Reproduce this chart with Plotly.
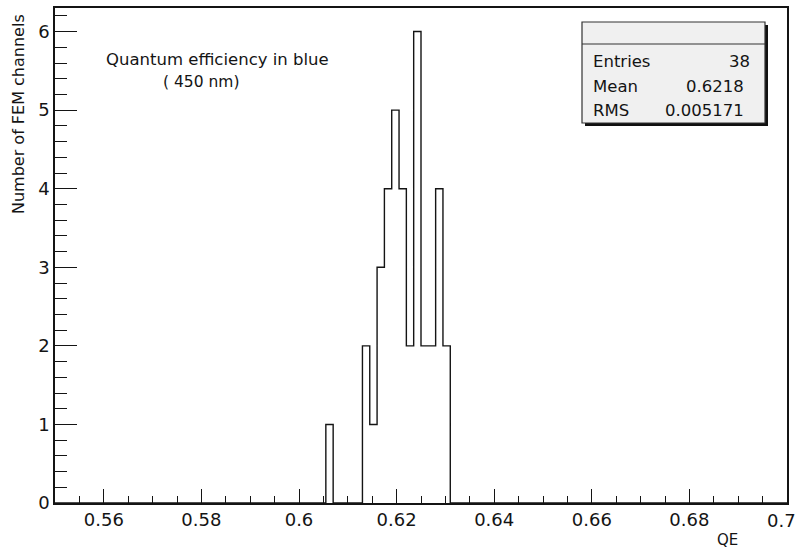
import plotly.graph_objects as go

# ---- data ----
bin_width = 0.0015
hist_min = 0.55
hist_max = 0.70
bin_left = [0.6055, 0.6130, 0.6145, 0.6160, 0.6175, 0.6190, 0.6205,
            0.6220, 0.6235, 0.6250, 0.6265, 0.6280, 0.6295]
counts = [1, 2, 1, 3, 4, 5, 4, 2, 6, 2, 2, 4, 2]

x_tickvals = [0.56, 0.58, 0.60, 0.62, 0.64, 0.66, 0.68, 0.70]
x_ticktext = ["0.56", "0.58", "0.6", "0.62", "0.64", "0.66", "0.68", "0.7"]
y_tickvals = [0, 1, 2, 3, 4, 5, 6]

stat_names = ["Entries", "Mean", "RMS"]
stat_values = ["38", "0.6218", "0.005171"]

title_lines = ["Quantum efficiency in blue", "( 450 nm)"]
x_title = "QE"
y_title = "Number of FEM channels"

# ---- build step outline of the histogram ----
nbins = int(round((hist_max - hist_min) / bin_width))
full = [0] * nbins
for b, c in zip(bin_left, counts):
    full[int(round((b - hist_min) / bin_width))] = c
edges = [hist_min + i * bin_width for i in range(nbins + 1)]
step_x = edges
step_y = full + [full[-1]]

W, H = 798, 551
L, R, T, B = 55, 787, 8, 503  # plot area in pixels


def px(x):
    return (x - L) / (R - L)


def py(y):
    return (B - y) / (B - T)


FONT = "DejaVu Sans"
INK = "#141414"

fig = go.Figure()
fig.add_trace(go.Scatter(
    x=step_x, y=step_y, mode="lines", line=dict(shape="hv", color=INK, width=1.4),
    hoverinfo="skip", showlegend=False))

shapes = []
# stats box shadow + box
bx0, bx1, by0, by1 = 582, 765, 22, 123
shapes.append(dict(type="rect", xref="paper", yref="paper",
                   x0=px(bx0 + 3), x1=px(bx1 + 3), y0=py(by1 + 3), y1=py(by0 + 3),
                   fillcolor="#111111", line=dict(width=0), layer="above"))
shapes.append(dict(type="rect", xref="paper", yref="paper",
                   x0=px(bx0), x1=px(bx1), y0=py(by1), y1=py(by0),
                   fillcolor="#f0f0f0", line=dict(color="#333333", width=1.2), layer="above"))
shapes.append(dict(type="line", xref="paper", yref="paper",
                   x0=px(bx0), x1=px(bx1), y0=py(44), y1=py(44),
                   line=dict(color="#333333", width=1.2), layer="above"))

annotations = []
row_y = [61.5, 86.5, 110]
val_right = [752, 746, 746]
for name, val, yy, xr in zip(stat_names, stat_values, row_y, val_right):
    annotations.append(dict(text=name, xref="paper", yref="paper", x=px(591), y=py(yy),
                            xanchor="left", yanchor="middle", showarrow=False,
                            font=dict(family=FONT, size=16.5, color=INK)))
    annotations.append(dict(text=val, xref="paper", yref="paper", x=px(xr), y=py(yy),
                            xanchor="right", yanchor="middle", showarrow=False,
                            font=dict(family=FONT, size=16.5, color=INK)))

annotations.append(dict(text=title_lines[0], xref="paper", yref="paper", x=px(104), y=py(59),
                        xanchor="left", yanchor="middle", showarrow=False,
                        font=dict(family=FONT, size=16.5, color=INK)))
annotations.append(dict(text=title_lines[1], xref="paper", yref="paper", x=px(161), y=py(82),
                        xanchor="left", yanchor="middle", showarrow=False,
                        font=dict(family=FONT, size=15.5, color=INK)))
annotations.append(dict(text=x_title, xref="paper", yref="paper", x=px(727), y=py(540),
                        xanchor="center", yanchor="middle", showarrow=False,
                        font=dict(family=FONT, size=15, color=INK)))
annotations.append(dict(text=y_title, xref="paper", yref="paper", x=px(18), y=py(12),
                        xanchor="center", yanchor="top", textangle=-90, showarrow=False,
                        font=dict(family=FONT, size=16, color=INK)))
# last x tick label sits at the right edge; drawn slightly shifted in so it stays on the page
annotations.append(dict(text=x_ticktext[-1], xref="x", yref="paper", x=x_tickvals[-1], y=py(520),
                        xanchor="center", yanchor="middle", xshift=-6, showarrow=False,
                        font=dict(family=FONT, size=18, color=INK)))

fig.update_layout(
    width=W, height=H,
    margin=dict(l=L, r=W - R, t=T, b=H - B, pad=0, autoexpand=False),
    paper_bgcolor="white", plot_bgcolor="white",
    shapes=shapes, annotations=annotations,
    showlegend=False,
)
fig.update_xaxes(
    range=[hist_min, hist_max + 1e-6], tickmode="array",
    tickvals=x_tickvals[:-1], ticktext=x_ticktext[:-1],
    ticks="inside", ticklen=14, tickwidth=1.3, tickcolor=INK,
    minor=dict(tick0=hist_min, dtick=0.005, ticks="inside", ticklen=7, tickwidth=1.3,
               tickcolor=INK, showgrid=False),
    showgrid=False, zeroline=False, showline=True, linecolor=INK, linewidth=1.5,
    mirror=True, tickfont=dict(family=FONT, size=18, color=INK),
    automargin=False,
)
fig.update_yaxes(
    range=[0, 6.3], tickmode="array", tickvals=y_tickvals,
    ticks="inside", ticklen=22, tickwidth=1.3, tickcolor=INK,
    minor=dict(tick0=0, dtick=0.2, ticks="inside", ticklen=12, tickwidth=1.3,
               tickcolor=INK, showgrid=False),
    showgrid=False, zeroline=False, showline=True, linecolor=INK, linewidth=1.5,
    mirror=True, tickfont=dict(family=FONT, size=18, color=INK),
    automargin=False,
)

fig.write_html("out.html", config={"displayModeBar": False},
               post_script="document.body.style.margin='0';document.body.style.overflow='hidden';")
